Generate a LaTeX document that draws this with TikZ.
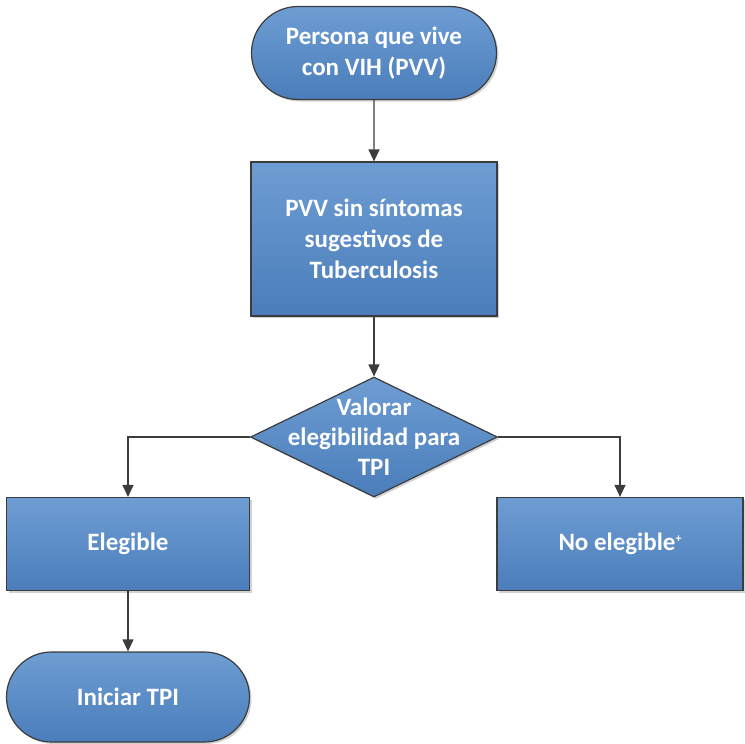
\documentclass[tikz,border=0pt]{standalone}
\usepackage{fontspec}
\setmainfont{Carlito}
\usetikzlibrary{shapes.geometric,shapes.misc,shadows,arrows.meta}

\definecolor{boxtop}{HTML}{6E9DD3}
\definecolor{boxbot}{HTML}{4A7DBA}
\definecolor{boxedge}{HTML}{3C3C3C}

\tikzset{
  base/.style={draw=boxedge, line width=1.2pt, top color=boxtop, bottom color=boxbot,
    text=white, align=center, font=\bfseries\fontsize{25}{31}\selectfont,
    drop shadow={shadow xshift=2pt, shadow yshift=-2pt, fill=black!35}},
  term/.style={base, rounded rectangle, minimum width=245pt, minimum height=93pt, inner sep=0pt},
  proc/.style={base, rectangle, minimum width=246pt, minimum height=93pt, inner sep=0pt},
  decide/.style={base, diamond, minimum width=247pt, minimum height=120pt, inner sep=0pt},
  flow/.style={draw=boxedge, line width=1.2pt, -{Triangle[length=12pt,width=11pt]}},
}

\begin{document}
\begin{tikzpicture}[x=1pt, y=-1pt]
\useasboundingbox (0,0) rectangle (745,744);

% nodes
\node[term] (pvv) at (374,53) {Persona que vive\\con VIH (PVV)};
\node[proc, minimum height=154pt] (sinsint) at (374,239) {PVV sin síntomas\\sugestivos de\\Tuberculosis};
\node[decide, label={[text=white, align=center, font=\bfseries\fontsize{25}{30}\selectfont]center:Valorar\\elegibilidad para\\TPI}] (valorar) at (374,437) {};
\node[proc, minimum width=243pt] (eleg) at (128,544) {Elegible};
\node[proc] (noeleg) at (620,544) {No elegible\raisebox{8pt}{\fontsize{12}{12}\selectfont +}};
\node[term, minimum width=243pt, minimum height=90pt] (iniciar) at (128,697) {Iniciar TPI};

% connectors
\draw[flow] (pvv) -- (sinsint);
\draw[flow] (sinsint) -- (valorar);
\draw[flow] (valorar.west) -| (eleg.north);
\draw[flow] (valorar.east) -| (noeleg.north);
\draw[flow] (eleg) -- (iniciar);

\end{tikzpicture}
\end{document}
